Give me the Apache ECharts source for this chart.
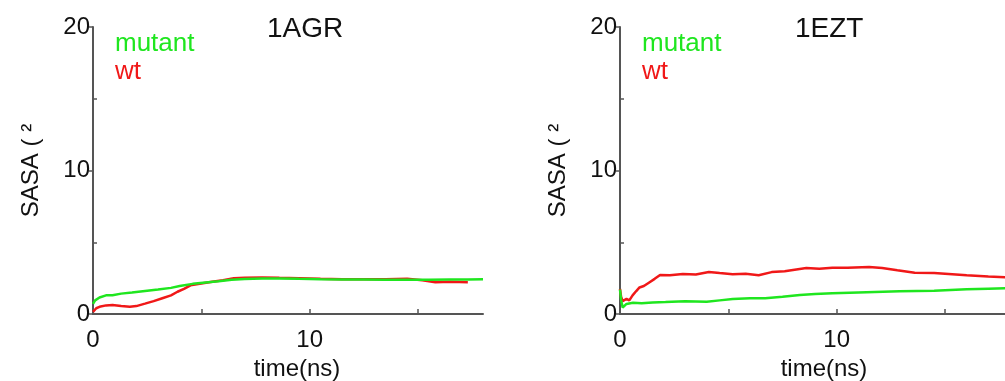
<!DOCTYPE html>
<html>
<head>
<meta charset="utf-8">
<script src="https://cdn.jsdelivr.net/npm/echarts@6/dist/echarts.min.js"></script>
<style>
  html, body { margin: 0; padding: 0; background: #fff; }
  #chart { width: 1005px; height: 381px; }
</style>
</head>
<body>
<div id="chart"></div>
<script>
// panel titles and series names
const panels = ['1AGR', '1EZT'];
const seriesNames = ['mutant', 'wt'];

// 1AGR
const agrMutantT = [0, 0.1, 0.3, 0.6, 0.9, 1.3, 1.8, 2.4, 3.0, 3.6, 4.0, 4.6, 5.2, 5.8, 6.4, 7.0, 7.8, 8.6, 9.5, 10.5, 11.5, 12.5, 13.5, 14.5, 15.5, 16.5, 17.3, 18];
const agrMutantV = [0.7, 0.95, 1.15, 1.3, 1.3, 1.42, 1.5, 1.6, 1.7, 1.82, 1.95, 2.1, 2.2, 2.28, 2.38, 2.44, 2.48, 2.48, 2.45, 2.42, 2.4, 2.4, 2.38, 2.39, 2.38, 2.4, 2.4, 2.42];
const agrWtT = [0, 0.15, 0.3, 0.6, 0.9, 1.3, 1.7, 2.0, 2.4, 2.8, 3.2, 3.6, 3.9, 4.2, 4.5, 5.0, 5.5, 6.0, 6.5, 7.0, 7.8, 8.6, 9.5, 10.5, 11.5, 12.5, 13.5, 14.5, 15.2, 15.8, 16.5, 17.3];
const agrWtV = [0.15, 0.4, 0.5, 0.6, 0.62, 0.55, 0.5, 0.55, 0.72, 0.9, 1.1, 1.3, 1.55, 1.75, 2.0, 2.12, 2.25, 2.35, 2.5, 2.52, 2.55, 2.52, 2.5, 2.45, 2.42, 2.42, 2.42, 2.45, 2.35, 2.22, 2.25, 2.22];

// 1EZT
const eztMutantT = [0, 0.05, 0.12, 0.3, 0.6, 1.0, 1.5, 2.1, 3.0, 4.0, 4.6, 5.2, 6.0, 6.7, 7.5, 8.3, 9.0, 9.8, 11, 12.9, 14.5, 16, 17, 18];
const eztMutantV = [1.7, 1.0, 0.45, 0.7, 0.78, 0.75, 0.8, 0.83, 0.88, 0.85, 0.95, 1.05, 1.1, 1.1, 1.2, 1.32, 1.4, 1.45, 1.5, 1.58, 1.62, 1.72, 1.76, 1.8];
const eztWtT = [0, 0.05, 0.12, 0.3, 0.43, 0.58, 0.75, 0.9, 1.1, 1.35, 1.6, 1.85, 2.3, 2.9, 3.5, 4.1, 4.6, 5.2, 5.8, 6.4, 7.0, 7.6, 8.6, 9.2, 9.8, 10.5, 11.5, 12.1, 12.8, 13.6, 14.5, 16.0, 17.0, 18];
const eztWtV = [1.74, 1.2, 0.9, 1.05, 0.95, 1.3, 1.6, 1.85, 1.95, 2.2, 2.45, 2.72, 2.7, 2.78, 2.75, 2.92, 2.85, 2.77, 2.8, 2.7, 2.92, 2.98, 3.2, 3.15, 3.22, 3.22, 3.28, 3.2, 3.05, 2.88, 2.85, 2.7, 2.62, 2.55];

// axis ticks / labels
const xTicks = [5, 10, 15];
const xLabels = [0, 10];
const yMajor = [0, 10, 20];
const yMinor = [5, 15];

const green = '#1fe61f';
const red = '#f01818';
const font = '"Liberation Sans", Arial, sans-serif';
const axisColor = '#555';

const gridLefts = [93, 620];
const titleLefts = [267, 795];

function pairs(t, v) {
  return t.map((x, i) => [x, v[i]]);
}

const lineData = [
  [pairs(agrMutantT, agrMutantV), pairs(agrWtT, agrWtV)],
  [pairs(eztMutantT, eztMutantV), pairs(eztWtT, eztWtV)]
];

const grid = [];
const xAxis = [];
const yAxis = [];
const series = [];
const title = [];
const legend = [];

panels.forEach((name, p) => {
  grid.push({ left: gridLefts[p], top: 27, width: 390, height: 287, outerBoundsMode: 'none', containLabel: false });
  title.push({
    text: name, left: titleLefts[p], top: 15, padding: 0,
    textStyle: { fontFamily: font, fontSize: 28, fontWeight: 'normal', color: '#111' }
  });
  legend.push({
    data: [
      { name: 'mutant', textStyle: { color: green } },
      { name: 'wt', textStyle: { color: red } }
    ],
    orient: 'vertical', left: gridLefts[p] + 17, top: 31, padding: 0,
    icon: 'none', itemWidth: 0, itemHeight: 0, itemGap: 2,
    textStyle: { fontFamily: font, fontSize: 26 }
  });
  xAxis.push({
    gridIndex: p, type: 'value', min: 0, max: 18,
    name: 'time(ns)', nameLocation: 'middle', nameGap: 42,
    nameTextStyle: { fontFamily: font, fontSize: 24, color: '#111', padding: [0, 0, 0, 18] },
    splitLine: { show: false },
    axisLine: { lineStyle: { color: axisColor, width: 2 } },
    axisTick: { inside: true, length: 5, customValues: xTicks, lineStyle: { color: axisColor, width: 1.5 } },
    axisLabel: { customValues: xLabels, margin: 14, fontFamily: font, fontSize: 24, color: '#111' }
  });
  yAxis.push({
    gridIndex: p, type: 'value', min: 0, max: 20, interval: 10,
    name: 'SASA ( ²', nameLocation: 'middle', nameGap: 50,
    nameTextStyle: { fontFamily: font, fontSize: 24, color: '#111' },
    splitLine: { show: false },
    axisLine: { show: true, lineStyle: { color: axisColor, width: 2 } },
    axisTick: { show: true, length: 4, customValues: yMajor, lineStyle: { color: axisColor, width: 1.5 } },
    axisLabel: { customValues: yMajor, margin: 3, fontFamily: font, fontSize: 24, color: '#111' }
  });
  // minor y ticks pointing inward
  yAxis.push({
    gridIndex: p, type: 'value', min: 0, max: 20, position: 'left',
    splitLine: { show: false },
    axisLine: { show: false },
    axisTick: { show: true, inside: true, length: 4, customValues: yMinor, lineStyle: { color: axisColor, width: 1.5 } },
    axisLabel: { show: false }
  });
  seriesNames.forEach((s, k) => {
    series.push({
      name: s, type: 'line', xAxisIndex: p, yAxisIndex: p * 2,
      data: lineData[p][k], showSymbol: false, smooth: false,
      lineStyle: { color: k === 0 ? green : red, width: 2.5 },
      itemStyle: { color: k === 0 ? green : red },
      z: k === 0 ? 3 : 2
    });
  });
});

const chart = echarts.init(document.getElementById('chart'), null, { renderer: 'canvas' });
chart.setOption({
  animation: false,
  backgroundColor: '#fff',
  title, legend, grid, xAxis, yAxis, series
});
</script>
</body>
</html>
